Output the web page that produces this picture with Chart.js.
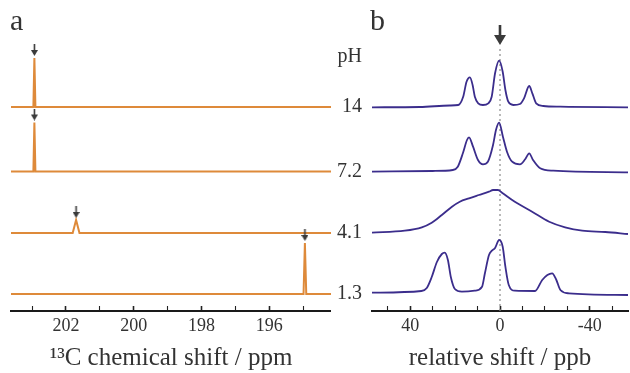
<!DOCTYPE html>
<html>
<head>
<meta charset="utf-8">
<script src="https://cdn.jsdelivr.net/npm/chart.js@4"></script>
<style>
  body { margin: 0; background: #fff; }
  #wrap { position: relative; width: 630px; height: 373px; }
  canvas { position: absolute; top: 0; }
  .panel { position: absolute; font-family: 'Liberation Serif', serif; font-size: 30px; line-height: 30px; color: #333; }
</style>
</head>
<body>
<div id="wrap">
  <canvas id="chartA" width="331" height="373" style="left:0"></canvas>
  <canvas id="chartB" width="300" height="373" style="left:330px"></canvas>
  <div class="panel" style="left:10px;top:5px">a</div>
  <div class="panel" style="left:370px;top:5px">b</div>
</div>
<script>
// pH of each trace, top to bottom, and the vertical offset used to stack them
var phLabels = ['14', '7.2', '4.1', '1.3'];
var traceOffset = [204, 139.5, 78, 17];

// panel a: 13C chemical shift (ppm) and intensity
var ppmA = [
    [203.62, 202.96, 202.93, 202.90, 194.18],
    [203.62, 202.96, 202.93, 202.90, 194.18],
    [203.62, 201.80, 201.70, 201.60, 194.18],
    [203.62, 194.99, 194.95, 194.91, 194.18]
];
var intA = [
    [0, 0, 49, 0, 0],
    [0, 0, 49, 0, 0],
    [0, 0, 13, 0, 0],
    [0, 0, 51, 0, 0]
];
var arrowPpm = [202.93, 202.93, 201.70, 194.95];
var peakA = [49, 49, 13, 51];

// panel b: relative shift (ppb) and intensity
var shiftB = [
    [57, 35.7, 22.3, 18.6, 16.4, 14.9, 13.4, 12.2, 11.2, 9.7, 7.6, 5.2, 3.7, 2.2, 0.4, -1.2, -2.4, -3.7, -5.9, -8.9, -10.7, -13, -14.4, -16.1, -19.3, -26.8, -57],
    [57, 30, 21, 18.8, 16.5, 14.7, 13.8, 12, 9.8, 7.6, 5.4, 3.1, 1.8, 0.4, -1.3, -3.1, -5.4, -8.9, -11.2, -13, -14.7, -17.9, -23.7, -57],
    [57, 42.4, 34.8, 30.4, 25.9, 21.4, 17.9, 13.8, 9.4, 4.9, 3.1, 0.9, -0.9, -6.6, -14.3, -21.9, -29, -36.6, -46.9, -57],
    [57, 35, 32.6, 30.4, 28.1, 25.9, 24.6, 23.2, 21.9, 20.1, 17, 11.2, 8, 6.7, 4.9, 3.6, 2.2, 0.4, -1.2, -2.4, -3.9, -6.6, -15.6, -18.8, -21.1, -23.2, -25.1, -26.9, -30.7, -57]
];
var intB = [
    [-0.3, 0, 1.5, 2, 10.3, 25.3, 29.7, 22, 10.3, 3.7, 2, 3.7, 10.3, 33.7, 46.3, 35.3, 17, 5.3, 2, 3, 8.7, 21, 13.7, 3.7, 1, 0.3, -0.3],
    [-0.2, 0.5, 1.5, 4.8, 18.5, 31.5, 34.2, 24.8, 11.5, 7.2, 9.8, 26.5, 41.5, 48.8, 34.8, 19.8, 9.8, 7.2, 12.2, 18.2, 11.5, 3.2, 0.8, -0.8],
    [0.3, 2.3, 5.7, 10.3, 18, 26.3, 31.3, 34.7, 38, 41.3, 43, 43, 40.3, 31.3, 21.3, 11.3, 5.7, 2.3, 1, -1],
    [1.3, 3, 6, 17, 32, 40, 41.3, 34, 17, 5, 2.3, 3.3, 7.3, 21, 39, 43.3, 46, 54, 47.3, 27.3, 9, 3.3, 3, 14, 19, 20.7, 14, 4, 0.7, -1]
];

// axis ticks
var ticksA = [203, 202, 201, 200, 199, 198, 197, 196, 195];
var tickLabelsA = [202, 200, 198, 196];
var ticksB = [50, 40, 30, 20, 10, 0, -10, -20, -30, -40, -50];
var tickLabelsB = [40, 0, -40];

var serif = "'Liberation Serif', 'Times New Roman', serif";
var orange = '#DE8A3A';
var indigo = '#3B2D8C';
var textColor = '#333';

function makeArrow(w, h, shaft, head) {
    var c = document.createElement('canvas');
    c.width = w;
    c.height = h;
    var g = c.getContext('2d');
    g.fillStyle = '#3a3a3a';
    g.fillRect((w - shaft) / 2, 0, shaft, h - head + 1);
    g.beginPath();
    g.moveTo(0, h - head);
    g.lineTo(w, h - head);
    g.lineTo(w / 2, h);
    g.closePath();
    g.fill();
    return c;
}

function trace(xs, ys, offset, color, smooth) {
    return {
        data: xs.map(function (x, i) { return { x: x, y: offset + ys[i] }; }),
        borderColor: color,
        borderWidth: smooth ? 1.8 : 2,
        pointRadius: 0,
        fill: false,
        tension: 0,
        cubicInterpolationMode: smooth ? 'monotone' : 'default',
        order: 1
    };
}

function noPad(s) {
    s.paddingLeft = 0;
    s.paddingRight = 0;
    s.paddingTop = 0;
    s.paddingBottom = 0;
}

function xAxis(min, max, tickList, labelList, title) {
    return {
        type: 'linear',
        min: min,
        max: max,
        reverse: true,
        afterBuildTicks: function (s) {
            s.ticks = tickList.map(function (v) { return { value: v }; });
        },
        afterFit: function (s) { s.height = 62; noPad(s); },
        ticks: {
            autoSkip: false,
            maxRotation: 0,
            padding: 9,
            color: textColor,
            font: { family: serif, size: 18 },
            callback: function (v) { return labelList.indexOf(v) >= 0 ? String(v) : ''; }
        },
        grid: {
            drawOnChartArea: false,
            drawTicks: true,
            tickLength: -5,
            tickColor: '#222',
            tickWidth: function (ctx) {
                return ctx.tick && labelList.indexOf(ctx.tick.value) >= 0 ? 1.6 : 1.1;
            }
        },
        border: { color: '#1a1a1a', width: 2 },
        title: {
            display: true,
            text: title,
            color: textColor,
            font: { family: serif, size: 25 },
            padding: 0
        }
    };
}

// panel a
var setsA = [];
for (var i = 0; i < phLabels.length; i++) {
    setsA.push(trace(ppmA[i], intA[i], traceOffset[i], orange, false));
}
setsA.push({
    type: 'scatter',
    data: arrowPpm.map(function (p, i) { return { x: p, y: traceOffset[i] + peakA[i] + 8 }; }),
    pointStyle: makeArrow(7, 12, 1.6, 6),
    pointRadius: 5,
    order: 0
});

new Chart(document.getElementById('chartA'), {
    type: 'line',
    data: { datasets: setsA },
    options: {
        responsive: false,
        animation: false,
        layout: { autoPadding: false, padding: { left: 11, right: 0, top: 0, bottom: 0 } },
        plugins: { legend: { display: false }, tooltip: { enabled: false } },
        scales: {
            x: xAxis(194.18, 203.62, ticksA, tickLabelsA, '\u00B9\u00B3C chemical shift / ppm'),
            y: { display: false, min: 0, max: 311 }
        }
    }
});

// panel b
var setsB = [];
for (var j = 0; j < phLabels.length; j++) {
    setsB.push(trace(shiftB[j], intB[j], traceOffset[j], indigo, true));
}
setsB.push({
    data: [{ x: 0, y: 0 }, { x: 0, y: 264 }],
    borderColor: '#8a8a8a',
    borderWidth: 1.2,
    borderDash: [2, 3],
    pointRadius: 0,
    order: 5
});
setsB.push({
    type: 'scatter',
    data: [{ x: 0, y: 276 }],
    pointStyle: makeArrow(12, 20, 2.6, 10),
    pointRadius: 8,
    order: 0
});

var yTickValues = [traceOffset[0] + 50].concat(traceOffset);
var yTickText = ['pH'].concat(phLabels);

new Chart(document.getElementById('chartB'), {
    type: 'line',
    data: { datasets: setsB },
    options: {
        responsive: false,
        animation: false,
        layout: { autoPadding: false, padding: { left: 0, right: 2, top: 0, bottom: 0 } },
        plugins: { legend: { display: false }, tooltip: { enabled: false } },
        scales: {
            x: xAxis(-57, 57, ticksB, tickLabelsB, 'relative shift / ppb'),
            y: {
                display: true,
                position: 'left',
                min: 0,
                max: 311,
                afterBuildTicks: function (s) {
                    s.ticks = yTickValues.map(function (v) { return { value: v }; });
                },
                afterFit: function (s) { s.width = 42; noPad(s); },
                ticks: {
                    padding: 10,
                    color: textColor,
                    font: { family: serif, size: 20 },
                    callback: function (v) { return yTickText[yTickValues.indexOf(v)]; }
                },
                grid: { display: false, drawTicks: false },
                border: { display: false }
            }
        }
    }
});
</script>
</body>
</html>
